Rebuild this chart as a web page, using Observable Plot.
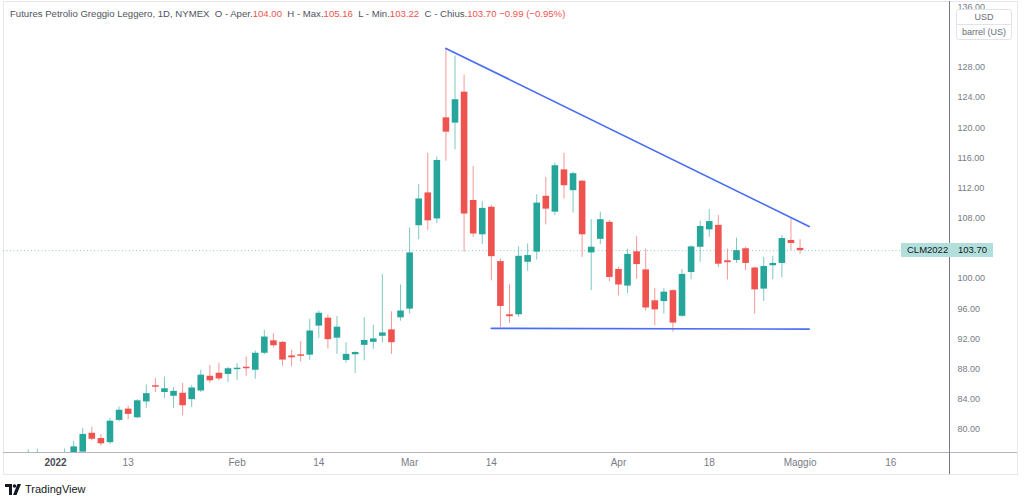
<!DOCTYPE html>
<html>
<head>
<meta charset="utf-8">
<script src="https://cdn.jsdelivr.net/npm/d3@7"></script>
<script src="https://cdn.jsdelivr.net/npm/@observablehq/plot@0.6"></script>
<style>
  html, body { margin: 0; padding: 0; background: #ffffff; }
  #wrap { position: relative; width: 1024px; height: 501px; overflow: hidden; font-family: "Liberation Sans", Arial, sans-serif; }
  #chart { position: absolute; left: 0; top: 0; }
  .abs { position: absolute; }
  #title { left: 10px; top: 8px; font-size: 9.6px; color: #50535e; white-space: pre; line-height: 12px; }
  #title .v { color: #ef5350; }
  #unitbox { left: 956px; top: 9px; width: 54px; height: 29px; border: 1px solid #e0e3eb; border-radius: 3px; background: #fff; font-size: 9px; color: #6a6d78; text-align: center; }
  #unitbox div { height: 14px; line-height: 14px; }
  #unitbox .sep { border-top: 1px solid #e0e3eb; height: 14px; }
  #lastlbl { left: 901px; top: 243px; width: 92px; height: 14px; background: #b2dfdb; font-size: 9.5px; color: #131722; line-height: 14px; }
  #lastlbl span { position: absolute; top: 0; }
  #tv { left: 5px; top: 483px; font-size: 11px; color: #131722; display: flex; align-items: center; gap: 3px; }
</style>
</head>
<body>
<div id="wrap">
  <div class="abs" style="left:3px;top:1px;width:1013px;height:472px;border:1px solid #e6e8ee;"></div>
  <div id="chart"></div>
  <div class="abs" style="left:3px;top:452px;width:1014px;height:1px;background:#b2b5be;"></div>
  <div class="abs" style="left:949px;top:1px;width:1px;height:473px;background:#787b86;"></div>
  <div id="title" class="abs"></div>
  <div id="unitbox" class="abs"><div>USD</div><div class="sep">barrel (US)</div></div>
  <div id="lastlbl" class="abs"><span id="lblSym" style="left:6px"></span><span id="lblVal" style="left:57px"></span></div>
  <div id="tv" class="abs">
    <svg width="17" height="11" viewBox="0 0 17 11"><path d="M0 0h7v11H4V3H0z" fill="#131722"/><circle cx="9.5" cy="2" r="1.8" fill="#131722"/><path d="M12.5 0H16l-4.5 11H8z" fill="#131722"/></svg>
    <span>TradingView</span>
  </div>
</div>
<script>
// ---- data (trading-day index: 0 = 3 Jan 2022) ----
const dayIndex = [-5,-4,-3,-2,-1,0,1,2,3,4,5,6,7,8,9,10,11,12,13,14,15,16,17,18,19,20,21,22,23,24,25,26,27,28,29,30,31,32,33,34,35,36,37,38,39,40,41,42,43,44,45,46,47,48,49,50,51,52,53,54,55,56,57,58,59,60,61,62,63,64,65,66,67,68,69,70,71,72,73,74,75,76,77,78,79,80,81,82];
const opens  = [75.2,75.6,75.9,76.2,76.0,75.8,76.3,76.9,77.0,79.5,78.8,78.25,81.2,82.7,81.55,83.65,85.8,84.9,84.4,84.8,83.95,85.1,87.05,87.45,87.3,87.93,88.25,87.85,90.1,91.75,91.55,89.75,89.9,89.85,93.7,94.75,92.1,89.15,89.9,91.15,91.55,92.35,93.2,94.8,95.95,107.0,111.35,107.9,121.3,120.6,124.7,110.35,105.8,109.45,102.25,95.2,95.2,102.15,103.5,110.9,108.8,114.4,111.65,112.9,103.4,105.2,107.45,101.2,99.0,103.55,101.15,97.05,96.95,98.4,95.0,100.8,104.15,106.45,107.05,102.35,102.4,103.95,101.4,98.6,101.7,102.0,105.05,104.00];
const highs  = [76.0,76.4,77.3,77.4,76.8,76.9,77.4,78.4,80.15,80.3,79.3,81.5,83.0,83.1,83.95,85.9,86.75,86.95,85.55,86.1,85.85,87.85,88.5,88.8,88.25,88.75,89.6,90.4,93.15,92.7,91.65,90.5,91.65,94.6,95.7,95.15,94.95,91.5,90.3,94.8,93.8,100.5,95.6,99.15,106.7,112.45,116.6,116.1,130.5,129.5,126.95,114.85,110.2,109.7,102.6,99.2,104.2,104.6,111.1,113.4,115.3,116.6,114.1,113.0,107.8,108.8,107.7,101.5,103.9,105.55,103.9,98.7,98.7,98.5,101.2,104.35,107.6,109.15,108.35,103.9,105.35,104.15,101.5,102.8,102.95,105.7,107.9,105.16];
const lows   = [74.8,75.0,75.6,75.7,75.3,75.4,75.9,76.5,76.8,78.5,77.8,78.0,81.0,81.3,81.4,82.8,84.9,84.1,82.8,81.8,82.9,84.9,86.1,86.45,86.2,86.5,87.05,86.65,89.9,90.8,88.4,88.3,88.95,89.15,92.05,90.65,89.95,88.8,87.4,89.1,90.6,91.45,89.95,94.35,95.3,105.15,106.35,107.25,115.55,117.05,103.5,105.45,104.5,99.7,93.5,94.05,94.85,100.95,102.45,107.1,108.35,110.55,108.65,102.8,98.4,104.5,99.55,97.7,98.0,99.9,95.7,93.75,95.3,92.9,94.85,99.85,102.15,105.45,101.45,99.8,102.0,101.05,95.3,96.95,99.85,100.1,103.7,103.22];
const closes = [75.6,76.1,76.8,76.9,76.3,76.5,76.8,77.7,79.35,78.7,78.1,81.1,82.55,82.0,83.8,84.75,85.6,85.4,85.05,83.15,85.5,87.2,86.45,86.7,88.05,88.12,88.05,90.1,92.25,91.1,89.2,89.5,89.7,93.05,95.4,91.9,93.55,89.95,90.2,91.8,92.0,92.8,91.5,95.7,103.4,110.55,107.65,115.65,119.4,123.7,108.55,105.9,109.3,102.9,96.3,94.95,102.95,103.05,110.0,109.2,114.95,112.3,113.9,105.8,104.15,107.8,100.15,99.15,103.2,101.85,96.1,95.85,98.2,94.1,100.55,104.2,106.9,107.55,101.9,102.1,103.7,102.0,98.5,101.6,102.0,105.3,104.65,103.70];

const xTickIdx    = [0, 8, 20, 29, 39, 48, 62, 72, 82, 92];
const xTickLabels = ["2022", "13", "Feb", "14", "Mar", "14", "Apr", "18", "Maggio", "16"];
const yTicks      = [80, 84, 88, 92, 96, 100, 104, 108, 112, 116, 120, 124, 128, 136];

const trendUpperIdx   = [43, 83];
const trendUpperPrice = [130.5, 106.9];
const trendLowerIdx   = [48, 83];
const trendLowerPrice = [93.4, 93.3];

const symbol = "CLM2022";
const lastPrice = 103.70;

// ---- build ----
const UP = "#26a69a", DOWN = "#ef5350";
const bars = dayIndex.map((i, k) => ({i, open: opens[k], high: highs[k], low: lows[k], close: closes[k], up: closes[k] >= opens[k]}));
const upperLine = trendUpperIdx.map((i, k) => ({i, p: trendUpperPrice[k]}));
const lowerLine = trendLowerIdx.map((i, k) => ({i, p: trendLowerPrice[k]}));
const labelOf = new Map(xTickIdx.map((d, k) => [d, xTickLabels[k]]));
const yTicksShown = yTicks.filter(d => d !== 104);

const chart = Plot.plot({
  width: 1024,
  height: 476,
  marginTop: 3,
  marginBottom: 24,
  marginLeft: 3,
  marginRight: 74,
  style: {fontFamily: "'Liberation Sans', Arial, sans-serif", fontSize: "9px", background: "transparent", color: "#787b86"},
  x: {type: "linear", domain: [-5.727, 98.57]},
  y: {type: "linear", domain: [76.95, 136.45]},
  marks: [
    Plot.ruleY([lastPrice], {stroke: UP, strokeOpacity: 0.55, strokeDasharray: "1,2.5"}),
    Plot.ruleX(bars, {x: "i", y1: "low", y2: "high", stroke: d => d.up ? UP : DOWN, strokeOpacity: 0.6, strokeWidth: 1, clip: true}),
    Plot.ruleX(bars, {x: "i", y1: "open", y2: "close", stroke: d => d.up ? UP : DOWN, strokeWidth: 6.6, clip: true}),
    Plot.line(upperLine, {x: "i", y: "p", stroke: "#4a6df5", strokeWidth: 1.7}),
    Plot.line(lowerLine, {x: "i", y: "p", stroke: "#4a6df5", strokeWidth: 1.7}),
    Plot.axisX(xTickIdx.filter(d => d !== 0), {tickSize: 0, tickPadding: 6, tickFormat: d => labelOf.get(d), color: "#787b86", fontSize: 10, label: null}),
    Plot.axisX([0], {tickSize: 0, tickPadding: 6, tickFormat: d => labelOf.get(d), color: "#4a4d57", fontWeight: "bold", fontSize: 10, label: null}),
    Plot.axisY(yTicksShown, {anchor: "right", tickSize: 0, tickPadding: 7, tickFormat: d => d.toFixed(2), textAnchor: "start", color: "#787b86", label: null})
  ]
});
document.getElementById("chart").appendChild(chart);

// header
const title = document.getElementById("title");
title.innerHTML = 'Futures Petrolio Greggio Leggero, 1D, NYMEX  O - Aper.<span class="v">' + opens[opens.length-1].toFixed(2) +
  '</span>  H - Max.<span class="v">' + highs[highs.length-1].toFixed(2) +
  '</span>  L - Min.<span class="v">' + lows[lows.length-1].toFixed(2) +
  '</span>  C - Chius.<span class="v">' + closes[closes.length-1].toFixed(2) +
  ' \u22120.99 (\u22120.95%)</span>';
document.getElementById("lblSym").textContent = symbol;
document.getElementById("lblVal").textContent = lastPrice.toFixed(2);
</script>
</body>
</html>
